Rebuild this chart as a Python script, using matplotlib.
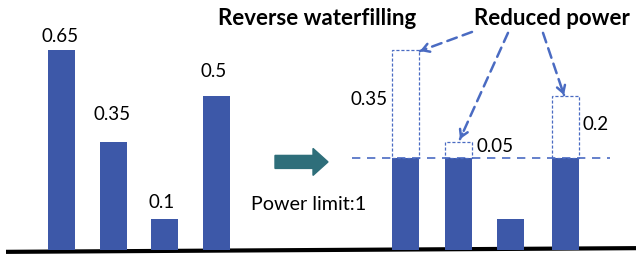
import numpy as np
import matplotlib
matplotlib.use("Agg")
import matplotlib.pyplot as plt
from matplotlib.patches import FancyArrow

# ------------------------------------------------------------------
# Data
# ------------------------------------------------------------------
powers = [0.65, 0.35, 0.1, 0.5]
power_limit = 1
water_level = 0.3
power_labels = ["0.65", "0.35", "0.1", "0.5"]
reduced_labels = ["0.35", "0.05", "", "0.2"]

capped = [min(p, water_level) for p in powers]

# ------------------------------------------------------------------
# Layout (x in figure pixels, y in power units)
# ------------------------------------------------------------------
x_left = [61.5, 113.5, 164.5, 216.0]
x_right = [405.5, 458.5, 510.5, 565.5]
bar_w = 27
px_per_unit = 308.0

bar_color = "#3D58A8"
dash_color = "#4A6BC2"
teal = "#2E6E7A"

plt.rcParams['font.family'] = ['Lato', 'DejaVu Sans']

fig = plt.figure(figsize=(6.37, 2.57), dpi=100)
ax = fig.add_axes([0, 0, 1, 1])
ax.set_xlim(0, 637)
ax.set_ylim(-7 / px_per_unit, 250 / px_per_unit)
ax.axis('off')

# baseline
ax.plot([6, 636], [-0.006, 0.006], color='black', lw=3, solid_capstyle='butt', zorder=1)

# left: original powers
ax.bar(x_left, powers, width=bar_w, color=bar_color, zorder=2)
left_lab_x = [60, 112, 161.5, 213.5]
left_offsets = [0.025, 0.072, 0.036, 0.062]
for x, p, lab, off in zip(left_lab_x, powers, power_labels, left_offsets):
    ax.text(x, p + off, lab, ha='center', va='baseline', fontsize=13.5)

# right: capped powers + dashed reduced parts
ax.bar(x_right, capped, width=bar_w, color=bar_color, zorder=2)
for x, p, c in zip(x_right, powers, capped):
    if p > c:
        ax.bar(x, p - c, bottom=c, width=bar_w, fill=False, edgecolor=dash_color,
               linewidth=0.9, linestyle=(0, (2.5, 1.5)), zorder=2)

ax.plot([352, 610], [water_level, water_level], color=dash_color, lw=1.2,
        linestyle=(0, (5, 4)), zorder=1)

red_pos = [(369.5, 0.471), (495.5, 0.318), None, (595.5, 0.39)]
for pos, lab in zip(red_pos, reduced_labels):
    if pos:
        ax.text(pos[0], pos[1], lab, ha='center', va='baseline', fontsize=13.5)

# big teal arrow
ax.add_patch(FancyArrow(275, 0.286, 53, 0, width=13 / px_per_unit,
                        head_width=27 / px_per_unit, head_length=15,
                        length_includes_head=True, color=teal, zorder=3))

ax.text(309, 0.13, "Power limit:" + str(power_limit), ha='center', va='baseline', fontsize=14.2)

ax.text(317, 0.731, "Reverse waterfilling", ha='center', va='baseline',
        fontsize=16, fontweight='bold')
ax.text(552, 0.731, "Reduced power", ha='center', va='baseline',
        fontsize=16, fontweight='bold')

# dashed pointer arrows
starts = [(472, 0.708), (508, 0.705), (543, 0.705)]
ends = [(420, 0.646), (460, 0.36), (564, 0.503)]
for (sx, sy), (ex, ey) in zip(starts, ends):
    ax.annotate("", xy=(ex, ey), xytext=(sx, sy),
                arrowprops=dict(arrowstyle='-', color=dash_color, lw=1.8,
                                linestyle=(0, (4, 2.5)), shrinkA=0, shrinkB=0))
    # solid head
    dx = (ex - sx)
    dy = (ey - sy) * px_per_unit
    n = np.hypot(dx, dy)
    hx = ex - dx / n * 6
    hy = ey - dy / n * 6 / px_per_unit
    ax.annotate("", xy=(ex, ey), xytext=(hx, hy),
                arrowprops=dict(arrowstyle='->,head_length=0.5,head_width=0.3',
                                color=dash_color, lw=1.8, shrinkA=0, shrinkB=0))

fig.savefig("out.png", dpi=100)
